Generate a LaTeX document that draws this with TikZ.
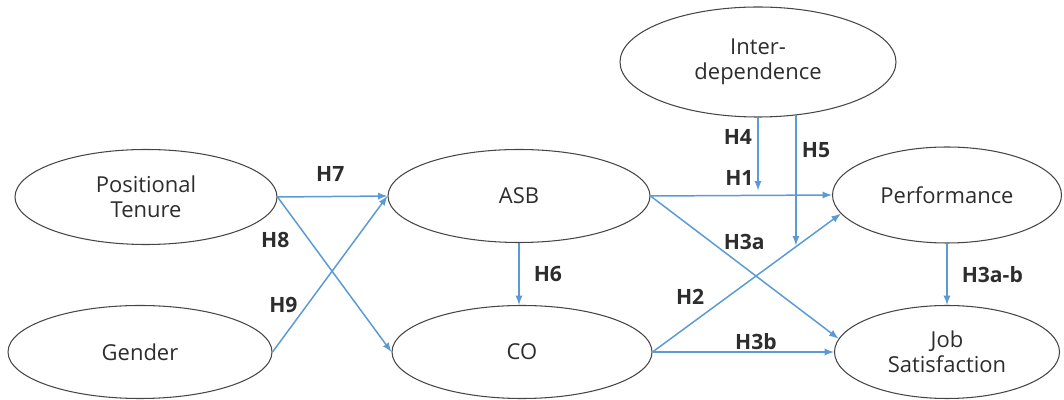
\documentclass[tikz,border=0pt]{standalone}
\usepackage{fontspec}
\setmainfont{Open Sans}
\usepackage{tikz}
\usetikzlibrary{shapes.geometric, arrows, calc}
\definecolor{edgeblue}{RGB}{91,155,213}
\definecolor{rimgray}{RGB}{70,70,70}
\definecolor{txtgray}{RGB}{45,45,45}
\tikzstyle{latent} = [ellipse, inner sep=0pt, draw=rimgray, line width=0.6pt, text=txtgray, align=center, font=\fontsize{12.5}{14}\selectfont]
\tikzstyle{arrow} = [draw=edgeblue, line width=0.85pt, ->, >=latex]
\tikzstyle{hyp} = [inner sep=1pt, text=txtgray, font=\fontsize{12}{14}\selectfont\bfseries]

\begin{document}
\begin{tikzpicture}
  \useasboundingbox (0,0) rectangle (21.28,8);
  \node (tenure) [latent, minimum width=5.24cm, minimum height=1.9cm] at (2.92,4.06) {Positional\\Tenure};
  \node (gender) [latent, minimum width=5.28cm, minimum height=1.86cm] at (2.80,0.96) {Gender};
  \node (asb) [latent, minimum width=5.24cm, minimum height=1.86cm] at (10.38,4.08) {ASB};
  \node (co) [latent, minimum width=5.2cm, minimum height=1.86cm] at (10.44,0.96) {CO};
  \node (inter) [latent, minimum width=5.52cm, minimum height=2.2cm] at (15.16,6.76) {Inter-\\dependence};
  \node (perf) [latent, minimum width=4.58cm, minimum height=1.92cm] at (18.94,4.10) {Performance};
  \node (job) [latent, minimum width=4.5cm, minimum height=1.86cm] at (18.94,0.96) {Job\\Satisfaction};
  \coordinate (h4end) at ($(inter.south)+(0,-1.46)$);
  \coordinate (h5top) at ($(inter.-55)+(0.01,0)$);
  \coordinate (h5end) at ($(h5top)+(0,-2.6)$);
  \draw [arrow] (tenure.east) -- node[hyp, pos=0.48, above=7pt] {H7} (asb.west);
  \draw [arrow] (tenure.east) -- node[hyp, pos=0.28, left=10pt] {H8} (co.west);
  \draw [arrow] (gender.east) -- node[hyp, pos=0.3, left=4pt] {H9} (asb.west);
  \draw [arrow] (asb.south) -- node[hyp, right=7pt] {H6} (asb.south |- co.north);
  \draw [arrow] (asb.east) -- node[hyp, pos=0.49, above=4pt] {H1} (perf.west);
  \draw [arrow] (asb.east) -- node[hyp, pos=0.32, right=6pt] {H3a} (job.173);
  \draw [arrow] (co.east) -- node[hyp, pos=0.4, left=12pt] {H2} (perf.190);
  \draw [arrow] (co.east) -- node[hyp, pos=0.57, above=0pt] {H3b} (job.west);
  \draw [arrow] (inter.south) -- node[hyp, pos=0.27, left=2pt] {H4} (h4end);
  \draw [arrow] (h5top) -- node[hyp, pos=0.27, right=2pt] {H5} (h5end);
  \draw [arrow] (perf.south) -- node[hyp, right=7pt] {H3a-b} (job.north);
\end{tikzpicture}
\end{document}
